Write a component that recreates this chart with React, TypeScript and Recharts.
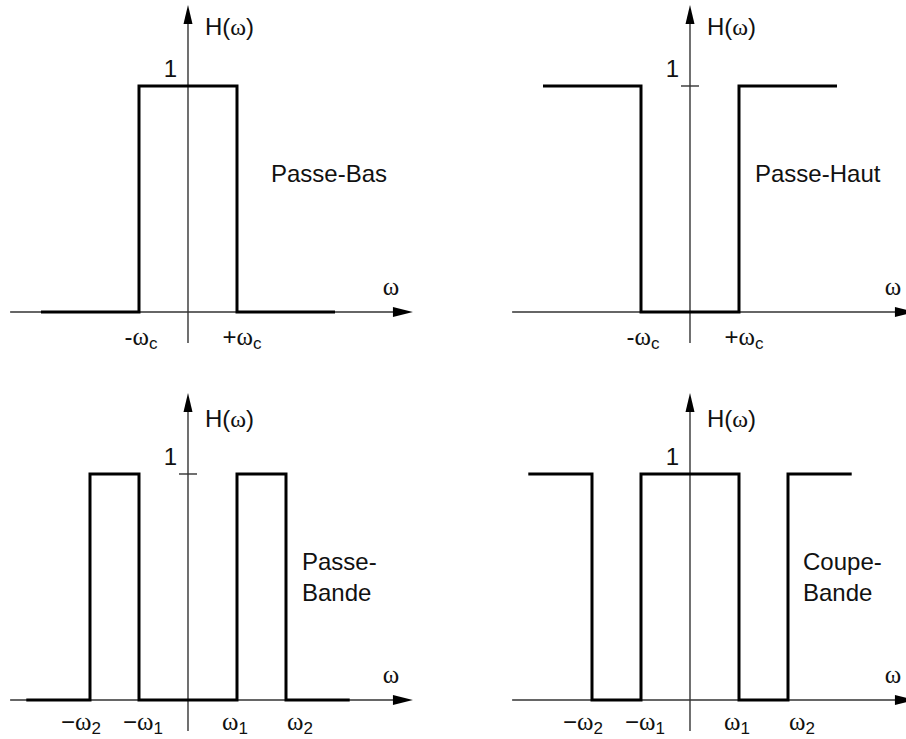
import React from 'react';
import { LineChart, Line, XAxis, YAxis, ReferenceLine, ReferenceDot } from 'recharts';

// Ideal filter responses: break frequencies (ω, in units of ωc / ω1) and gain after each break.
const lowPassEdges = [-3, -1, 1, 3];
const lowPassGain = [0, 1, 0, 0];

const highPassEdges = [-3, -1, 1, 3];
const highPassGain = [1, 0, 1, 1];

const bandPassEdges = [-3.3, -2, -1, 1, 2, 3.3];
const bandPassGain = [0, 1, 0, 1, 0, 0];

const bandStopEdges = [-3.3, -2, -1, 1, 2, 3.3];
const bandStopGain = [1, 0, 1, 0, 1, 1];

// Frequency ticks and their labels (sign, subscript).
const cutoffTicks = [-1, 1];
const cutoffSigns = ['-', '+'];
const cutoffSubs = ['c', 'c'];

const bandTicks = [-2, -1, 1, 2];
const bandSigns = ['\u2212', '\u2212', '', ''];
const bandSubs = ['2', '1', '1', '2'];

const titles = {
  lowPass: ['Passe-Bas'],
  highPass: ['Passe-Haut'],
  bandPass: ['Passe-', 'Bande'],
  bandStop: ['Coupe-', 'Bande'],
};

const SANS = '"Liberation Sans", Arial, Helvetica, sans-serif';
const SERIF = '"Liberation Serif", "Times New Roman", serif';
const INK = '#111';
const AXIS = '#333';

const W = 453;
const H = 355;
const X_DOMAIN: [number, number] = [-3.8367, 5.4082];
const Y_DOMAIN: [number, number] = [-0.146, 1.3805];
const AXIS_X: [number, number] = [-3.63, 4.59];
const AXIS_Y: [number, number] = [-0.137, 1.358];

// Horizontal nudges (px) for the frequency labels under the axis.
const cutoffLabelDx = [2, 5];
const bandLabelDx = [-9, 4, -2, 14];

const toData = (edges: number[], gain: number[]) => edges.map((w, i) => ({ w, h: gain[i] }));

function OmegaTick(props: any) {
  const { x, y, payload, ticks, signs, subs, shifts, lift } = props;
  const i = ticks.indexOf(payload.value);
  if (i < 0) return null;
  return (
    <text x={x + shifts[i]} y={y - lift} textAnchor="middle" fontSize={24} fill={INK}>
      <tspan fontFamily={SANS}>{signs[i]}</tspan>
      <tspan fontFamily={SERIF} fontSize={25}>ω</tspan>
      <tspan fontFamily={SANS} fontSize={17} dy={4}>
        {subs[i]}
      </tspan>
    </text>
  );
}

function RightArrow(props: any) {
  const { cx, cy } = props;
  return (
    <g>
      <polygon points={`${cx},${cy} ${cx - 20},${cy - 5} ${cx - 20},${cy + 5}`} fill="#000" />
      <text x={cx - 22} y={cy - 17} textAnchor="middle" fontFamily={SERIF} fontSize={25} fill={INK}>
        ω
      </text>
    </g>
  );
}

function UpArrow(props: any) {
  const { cx, cy, labelDy } = props;
  return (
    <g>
      <polygon points={`${cx},${cy} ${cx - 4.5},${cy + 19} ${cx + 4.5},${cy + 19}`} fill="#000" />
      <text x={cx + 17} y={cy + labelDy} fontSize={24} fill={INK}>
        <tspan fontFamily={SANS}>H(</tspan>
        <tspan fontFamily={SERIF}>ω</tspan>
        <tspan fontFamily={SANS}>)</tspan>
      </text>
    </g>
  );
}

function UnitMark(props: any) {
  const { cx, cy, withTick } = props;
  return (
    <g>
      {withTick && <line x1={cx - 9} y1={cy} x2={cx + 9} y2={cy} stroke={AXIS} strokeWidth={1.4} />}
      <text x={cx - 11} y={cy - 9} textAnchor="end" fontFamily={SANS} fontSize={24} fill={INK}>
        1
      </text>
    </g>
  );
}

type PanelProps = {
  edges: number[];
  gain: number[];
  ticks: number[];
  signs: string[];
  subs: string[];
  shifts: number[];
  title: string[];
  titleX: number;
  unitTick: boolean;
  lift: number;
  headDy: number;
  left: number;
  top: number;
};

function FilterPanel({
  edges,
  gain,
  ticks,
  signs,
  subs,
  shifts,
  title,
  titleX,
  unitTick,
  lift,
  headDy,
  left,
  top,
}: PanelProps) {
  const data = toData(edges, gain);
  return (
    <div style={{ position: 'absolute', left, top, width: W, height: H }}>
      <LineChart width={W} height={H} data={data} margin={{ top: 0, right: 0, bottom: 0, left: 0 }}>
        <XAxis
          dataKey="w"
          type="number"
          domain={X_DOMAIN}
          allowDataOverflow
          ticks={ticks}
          interval={0}
          axisLine={false}
          tickLine={false}
          tickSize={0}
          tickMargin={0}
          height={10}
          tick={(p: any) => (
            <OmegaTick {...p} ticks={ticks} signs={signs} subs={subs} shifts={shifts} lift={lift} />
          )}
        />
        <YAxis hide type="number" domain={Y_DOMAIN} allowDataOverflow />
        <ReferenceLine
          segment={[
            { x: AXIS_X[0], y: 0 },
            { x: AXIS_X[1] - 0.2, y: 0 },
          ]}
          stroke={AXIS}
          strokeWidth={1.4}
        />
        <ReferenceLine
          segment={[
            { x: 0, y: AXIS_Y[0] },
            { x: 0, y: AXIS_Y[1] - 0.05 },
          ]}
          stroke={AXIS}
          strokeWidth={1.4}
        />
        <ReferenceDot x={AXIS_X[1]} y={0} r={0} shape={(p: any) => <RightArrow {...p} />} />
        <ReferenceDot x={0} y={AXIS_Y[1]} r={0} shape={(p: any) => <UpArrow {...p} labelDy={headDy} />} />
        <ReferenceDot x={0} y={1} r={0} shape={(p: any) => <UnitMark {...p} withTick={unitTick} />} />
        <Line
          type="stepAfter"
          dataKey="h"
          stroke="#000"
          strokeWidth={3}
          dot={false}
          activeDot={false}
          isAnimationActive={false}
        />
        <text x={titleX} y={182} fontFamily={SANS} fontSize={24} fill={INK}>
          {title.map((t, i) => (
            <tspan key={i} x={titleX} dy={i === 0 ? 0 : 31}>
              {t}
            </tspan>
          ))}
        </text>
      </LineChart>
    </div>
  );
}

export default function App() {
  return (
    <div
      style={{
        position: 'absolute',
        left: 0,
        top: 0,
        width: 906,
        height: 739,
        overflow: 'hidden',
        background: '#fff',
      }}
    >
      <FilterPanel
        edges={lowPassEdges}
        gain={lowPassGain}
        ticks={cutoffTicks}
        signs={cutoffSigns}
        subs={cutoffSubs}
        shifts={cutoffLabelDx}
        title={titles.lowPass}
        titleX={271}
        unitTick={false}
        lift={0}
        headDy={30}
        left={0}
        top={0}
      />
      <FilterPanel
        edges={highPassEdges}
        gain={highPassGain}
        ticks={cutoffTicks}
        signs={cutoffSigns}
        subs={cutoffSubs}
        shifts={cutoffLabelDx}
        title={titles.highPass}
        titleX={253}
        unitTick={true}
        lift={0}
        headDy={30}
        left={502}
        top={0}
      />
      <FilterPanel
        edges={bandPassEdges}
        gain={bandPassGain}
        ticks={bandTicks}
        signs={bandSigns}
        subs={bandSubs}
        shifts={bandLabelDx}
        title={titles.bandPass}
        titleX={302}
        unitTick={true}
        lift={3}
        headDy={34}
        left={0}
        top={388}
      />
      <FilterPanel
        edges={bandStopEdges}
        gain={bandStopGain}
        ticks={bandTicks}
        signs={bandSigns}
        subs={bandSubs}
        shifts={bandLabelDx}
        title={titles.bandStop}
        titleX={301}
        unitTick={false}
        lift={3}
        headDy={34}
        left={502}
        top={388}
      />
    </div>
  );
}
